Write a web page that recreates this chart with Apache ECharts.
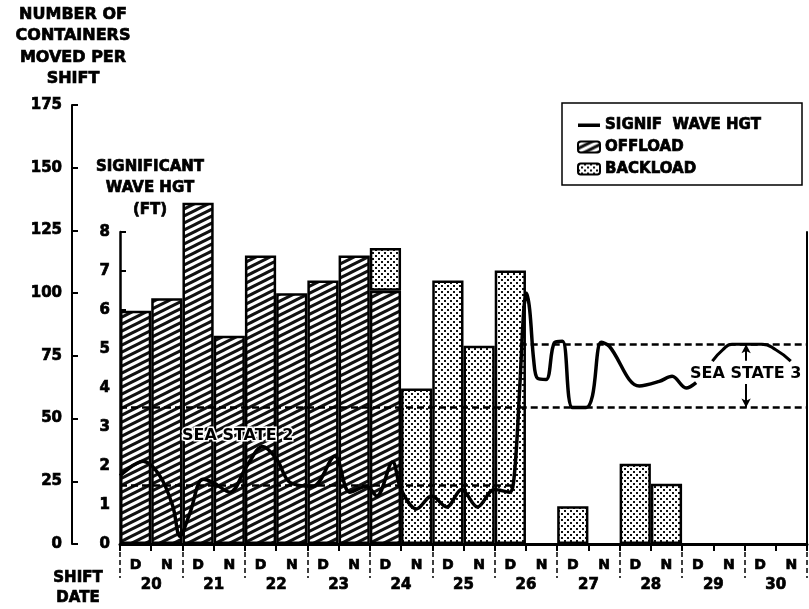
<!DOCTYPE html>
<html><head><meta charset="utf-8">
<script src="https://cdn.jsdelivr.net/npm/echarts@6/dist/echarts.min.js"></script>
<style>html,body{margin:0;padding:0;background:#fff}#c{width:809px;height:609px}</style>
</head><body><div id="c"></div>
<script>
// ---- data ----
const shiftLabels = ['D','N','D','N','D','N','D','N','D','N','D','N','D','N','D','N','D','N','D','N','D','N'];
const dayLabels = ['20','21','22','23','24','25','26','27','28','29','30'];
const offload  = [93, 98, 136, 83, 115, 100, 105, 115, 101, 0, 0, 0, 0, 0, 0, 0, 0, 0, 0, 0, 0, 0];
const backload = [0, 0, 0, 0, 0, 0, 0, 0, 17, 62, 105, 79, 109, 0, 15, 0, 32, 24, 0, 0, 0, 0];
const containerTicks = [0, 25, 50, 75, 100, 125, 150, 175];
const waveTicks = [0, 1, 2, 3, 4, 5, 6, 7, 8];
// significant wave height: [position in shifts from 20 D start, feet]
const waveHeight = [
  [0,1.75],[0.74,2.12],[1.28,1.74],[1.69,0.97],[1.92,0.2],[2.24,0.8],[2.65,1.66],[2.97,1.58],
  [3.52,1.33],[4.06,2.0],[4.57,2.5],[5.02,2.17],[5.44,1.58],[6.17,1.48],[6.88,2.25],[7.36,1.33],
  [7.9,1.48],[8.22,1.23],[8.73,2.1],[9.0,1.4],[9.5,0.9],[9.98,1.23],[10.46,0.95],[10.94,1.4],
  [11.45,0.95],[11.99,1.4],[12.47,1.33],[12.62,1.7],[12.8,4.0],[12.93,6.0],[13.02,6.43],[13.12,6.0],
  [13.25,4.7],[13.37,4.25],[13.65,4.22],[13.91,5.16],[14.17,5.2],[14.49,3.5],[14.93,3.5],[15.13,3.8],
  [15.41,5.17],[15.67,5.07],[16.63,4.05],[17.27,4.17],[17.68,4.3],[18.13,4.0],[18.45,4.14]
];
const seaState3Arc = [[18.97,4.69],[19.3,4.98],[19.6,5.12],[20.56,5.12],[21.0,4.98],[21.48,4.69]];
const seaState2Band = [1.5, 3.5];
const seaState2Span = [0, 12.62];
const seaState3Band = [3.5, 5.12];
const seaState3Span = [12.8, 22];
const seaState3ArrowX = 20.05;
const seaState3ArrowUp = [4.7, 5.12];
const seaState3ArrowDown = [4.1, 3.5];

// ---- patterns ----
function makeHatch(){
  const W=14,H=7;
  const c=document.createElement('canvas'); c.width=W; c.height=H;
  const g=c.getContext('2d'); g.fillStyle='#fff'; g.fillRect(0,0,W,H);
  g.strokeStyle='#111'; g.lineWidth=3;
  for(let k=-2;k<=2;k++){ g.beginPath(); g.moveTo(k*W-W/2,H*1.5); g.lineTo(k*W+W*1.5,-H/2); g.stroke(); }
  return c;
}
function makeStipple(){
  const c=document.createElement('canvas'); c.width=6; c.height=6;
  const g=c.getContext('2d'); g.fillStyle='#fff'; g.fillRect(0,0,6,6);
  g.fillStyle='#111'; g.fillRect(0,0,2,2); g.fillRect(3,3,2,2);
  return c;
}
const hatch={image:makeHatch(),repeat:'repeat'};
const stipple={image:makeStipple(),repeat:'repeat'};

const FONT='DejaVu Sans';
const lbl=(s)=>({fontFamily:FONT,fontWeight:'bold',fontSize:s,color:'#000',textBorderColor:'#000',textBorderWidth:0.7});
const nz=a=>a.map(v=>v===0?'-':v);
const bandLine=(span,y)=>[{coord:[span[0],y]},{coord:[span[1],y]}];
const gtext=(s)=>({font:'bold '+s+'px "DejaVu Sans"',fill:'#000',stroke:'#000',lineWidth:0.7});
const lineIcon='path://M0,0H0.01V0.01H0ZM0,4H22V7.5H0ZM0,11H0.01V11.01H0Z';

const chart=echarts.init(document.getElementById('c'),null,{renderer:'canvas'});
chart.setOption({
  backgroundColor:'#fff',
  animation:false,
  grid:[
    {left:120,right:2,top:105,bottom:65},
    {left:120,right:2,top:232,bottom:65}
  ],
  xAxis:[
    {type:'category',gridIndex:0,data:shiftLabels,boundaryGap:true,
     axisLine:{show:true,lineStyle:{color:'#000',width:3}},
     axisTick:{show:true,interval:0,length:7,lineStyle:{color:'#000',width:2}},
     axisLabel:{interval:0,margin:14,...lbl(14)},splitLine:{show:false}},
    {type:'category',gridIndex:0,data:dayLabels,boundaryGap:true,position:'bottom',
     axisLine:{show:false},
     axisTick:{show:true,interval:0,length:34,lineStyle:{color:'#000',width:1.5,type:[5,3]}},
     axisLabel:{interval:0,margin:34,...lbl(15)},splitLine:{show:false}},
    {type:'value',gridIndex:1,min:0,max:22,show:false}
  ],
  yAxis:[
    {type:'value',gridIndex:0,min:containerTicks[0],max:containerTicks[containerTicks.length-1],
     interval:containerTicks[1]-containerTicks[0],offset:48,
     axisLine:{show:true,lineStyle:{color:'#000',width:2}},
     axisTick:{show:true,inside:true,length:6,lineStyle:{color:'#000',width:2}},
     axisLabel:{margin:10,...lbl(15)},splitLine:{show:false}},
    {type:'value',gridIndex:1,min:waveTicks[0],max:waveTicks[waveTicks.length-1],
     interval:waveTicks[1]-waveTicks[0],
     axisLine:{show:true,lineStyle:{color:'#000',width:2.5}},
     axisTick:{show:true,inside:true,length:6,lineStyle:{color:'#000',width:2}},
     axisLabel:{margin:10,...lbl(15)},splitLine:{show:false}},
    {type:'value',gridIndex:1,position:'right',min:0,max:8,
     axisLine:{show:true,lineStyle:{color:'#000',width:2}},
     axisTick:{show:false},axisLabel:{show:false},splitLine:{show:false}}
  ],
  legend:{
    data:[
      {name:'SIGNIF  WAVE HGT',icon:lineIcon,itemStyle:{color:'#000',borderWidth:0}},
      {name:'OFFLOAD',icon:'roundRect'},
      {name:'BACKLOAD',icon:'roundRect'}
    ],
    orient:'vertical',left:572,top:112,itemGap:6,itemWidth:22,itemHeight:11,
    textStyle:{...lbl(15),lineHeight:16}
  },
  series:[
    {name:'OFFLOAD',type:'bar',xAxisIndex:0,yAxisIndex:0,stack:'c',data:nz(offload),
     barWidth:'100%',barCategoryGap:0,
     itemStyle:{color:hatch,borderColor:'#000',borderWidth:2.5}},
    {name:'BACKLOAD',type:'bar',xAxisIndex:0,yAxisIndex:0,stack:'c',data:nz(backload),
     barWidth:'100%',barCategoryGap:0,
     itemStyle:{color:stipple,borderColor:'#000',borderWidth:2.5}},
    {name:'SIGNIF  WAVE HGT',type:'line',xAxisIndex:2,yAxisIndex:1,data:waveHeight,
     smooth:0.35,symbol:'none',showSymbol:false,z:5,lineStyle:{color:'#000',width:3.5},itemStyle:{color:'#000'},
     markLine:{silent:true,symbol:['none','none'],
       lineStyle:{color:'#000',width:2.5,type:[7,4]},label:{show:false},
       data:[
         bandLine(seaState2Span,seaState2Band[0]),bandLine(seaState2Span,seaState2Band[1]),
         bandLine(seaState3Span,seaState3Band[0]),bandLine(seaState3Span,seaState3Band[1])
       ]}},
    {name:'arc',type:'line',xAxisIndex:2,yAxisIndex:1,data:seaState3Arc,smooth:0.5,symbol:'none',z:5,
     lineStyle:{color:'#000',width:3},
     markLine:{silent:true,symbol:['none','arrow'],symbolSize:[7,9],
       lineStyle:{color:'#000',width:2,type:'solid'},label:{show:false},
       data:[
         [{coord:[seaState3ArrowX,seaState3ArrowUp[0]]},{coord:[seaState3ArrowX,seaState3ArrowUp[1]]}],
         [{coord:[seaState3ArrowX,seaState3ArrowDown[0]]},{coord:[seaState3ArrowX,seaState3ArrowDown[1]]}]
       ]}}
  ],
  graphic:[
    {type:'text',z:10,style:{text:'NUMBER OF\nCONTAINERS\nMOVED PER\nSHIFT',x:73,y:4,
      textAlign:'center',lineHeight:21.5,...gtext(16)}},
    {type:'text',z:10,style:{text:'SIGNIFICANT\nWAVE HGT\n(FT)',x:150,y:156,textAlign:'center',
      lineHeight:21.5,...gtext(15)}},
    {type:'text',z:10,style:{text:'SHIFT\nDATE',x:78,y:568,textAlign:'center',
      lineHeight:20,...gtext(15)}},
    {type:'text',z:10,style:{text:'SEA STATE 2',x:182,y:436,textVerticalAlign:'middle',
      font:'bold 16px "DejaVu Sans"',fill:'#000',stroke:'#fff',lineWidth:3}},
    {type:'text',z:10,style:{text:'SEA STATE 3',x:690,y:374,textVerticalAlign:'middle',
      font:'bold 16px "DejaVu Sans"',fill:'#000',stroke:'#fff',lineWidth:3}},
    {type:'rect',z:10,shape:{x:562,y:103,width:240,height:82},
      style:{fill:'none',stroke:'#000',lineWidth:1.5}}
  ]
});
</script></body></html>
